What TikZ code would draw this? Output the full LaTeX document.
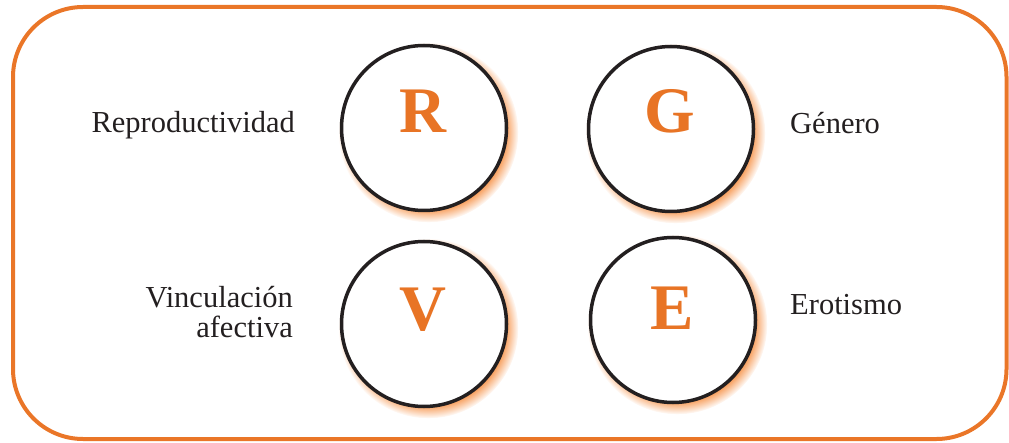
\documentclass[tikz,border=0pt]{standalone}
\usepackage{fontspec}
\setmainfont{Liberation Serif}
\usetikzlibrary{shadows,fadings}
\definecolor{frameorange}{HTML}{EA7628}
\definecolor{letterorange}{HTML}{E87425}
\definecolor{glow}{HTML}{F79A55}
\definecolor{ink}{HTML}{231F20}
\tikzset{
  frame/.style={draw=frameorange, line width=4pt, rounded corners=70pt},
  ring/.style={circle, draw=ink, line width=3.5pt, fill=white, minimum size=165pt, inner sep=0pt,
    circular drop shadow={fill=glow, shadow scale=1.09, shadow xshift=4pt, shadow yshift=-4pt}},
  letter/.style={text=letterorange, font=\fontsize{65}{65}\selectfont\bfseries, inner sep=0pt},
  label/.style={text=ink, font=\fontsize{30.5}{31}\selectfont, inner sep=0pt}
}
\begin{document}
\begin{tikzpicture}[x=1pt,y=1pt]
\useasboundingbox (0,0) rectangle (1009,442);
\draw[frame] (13,3) rectangle (1006.5,435);
% circles
\node[ring] (cR) at (424,314) {};
\node[ring] (cG) at (671,313) {};
\node[ring] (cV) at (424,118) {};
\node[ring] (cE) at (673,122) {};
% letters
\node[letter, anchor=base] (lR) at (423,309) {R};
\node[letter, anchor=base] (lG) at (670,309) {G};
\node[letter, anchor=base] (lV) at (423,112) {V};
\node[letter, anchor=base] (lE) at (672,113) {E};
% labels
\node[label, anchor=base east] (tR) at (295,309) {Reproductividad};
\node[label, anchor=base west] (tG) at (790,308) {Género};
\node[label, anchor=base east] (tV1) at (293,135) {Vinculación};
\node[label, anchor=base east] (tV2) at (293,104) {afectiva};
\node[label, anchor=base west] (tE) at (790,128) {Erotismo};
\end{tikzpicture}
\end{document}
